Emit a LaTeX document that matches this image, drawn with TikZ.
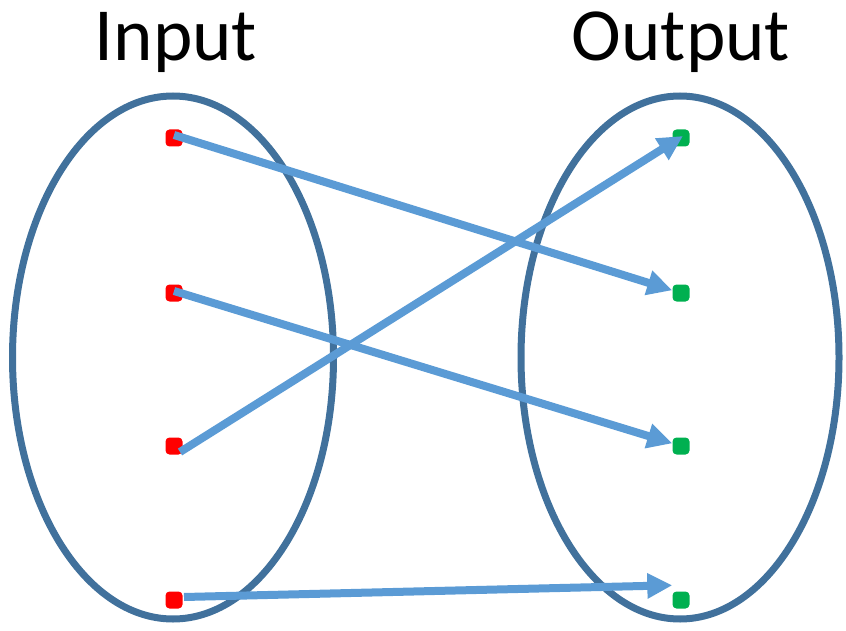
\documentclass[tikz,border=0pt]{standalone}
\usepackage{fontspec}
\setmainfont{Carlito}
\usetikzlibrary{arrows.meta, positioning}
\definecolor{mapedge}{HTML}{41719C}
\definecolor{maparrow}{HTML}{5B9BD5}
\definecolor{mapred}{HTML}{FF0000}
\definecolor{mapgreen}{HTML}{00B050}
\tikzset{
  >={Triangle[length=25pt, width=24pt]},
  setring/.style={draw=mapedge, line width=7pt},
  dot/.style={rectangle, rounded corners=4pt, minimum size=17pt, inner sep=0pt},
  dotin/.style={dot, fill=mapred},
  dotout/.style={dot, fill=mapgreen},
  flow/.style={->, line width=8pt, draw=maparrow},
  ttl/.style={font=\fontsize{75}{90}\selectfont, anchor=base},
}

\begin{document}
\begin{tikzpicture}[x=1pt, y=-1pt]
  \useasboundingbox (0,0) rectangle (846,631);
  \node[ttl] (tin) at (176,61) {Input};
  \node[ttl] (tout) at (681,61) {Output};
  \draw[setring] (173,357.5) ellipse [x radius=160.5, y radius=261.5];
  \draw[setring] (680,357.5) ellipse [x radius=159, y radius=261.5];
  % domain and codomain points
  \foreach \i/\y in {1/138, 2/293, 3/446, 4/600} {
    \node[dotin] (in\i) at (174,\y) {};
    \node[dotout] (out\i) at (681,\y) {};
  }
  \draw[flow] ([yshift=3pt]in1.center) -- (out2);
  \draw[flow] ([yshift=2pt]in2.center) -- (out3);
  \draw[flow] ([xshift=6pt,yshift=-6pt]in3.center) -- ([xshift=2pt,yshift=2pt]out1.center);
  \draw[flow] ([xshift=10pt,yshift=3pt]in4.center) -- ([yshift=6pt]out4.north west);
\end{tikzpicture}
\end{document}
